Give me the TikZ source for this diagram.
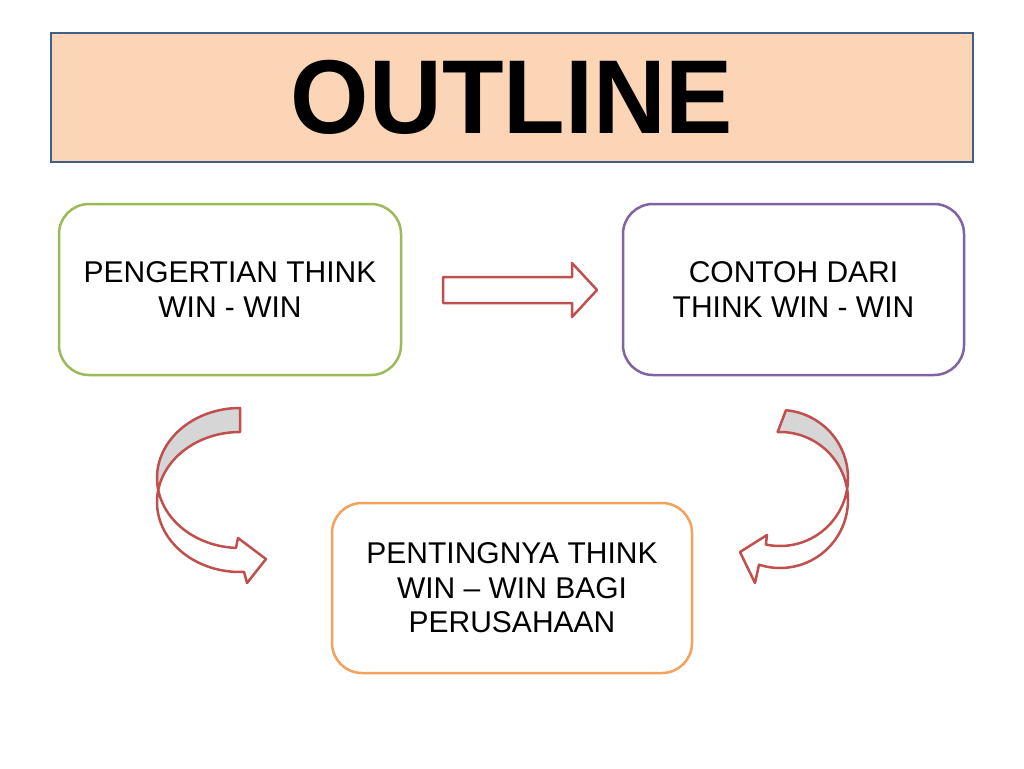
\documentclass[tikz,border=0pt]{standalone}
\usepackage{fontspec}
\setmainfont{Liberation Sans}
\definecolor{peach}{HTML}{FBD5B5}
\definecolor{hdrline}{HTML}{40608A}
\definecolor{grn}{HTML}{9BBB59}
\definecolor{purp}{HTML}{8064A2}
\definecolor{orng}{HTML}{F4A15C}
\definecolor{arred}{HTML}{C0504D}
\definecolor{backgray}{HTML}{D6D6D6}
\begin{document}
\begin{tikzpicture}[x=1pt,y=-1pt,
  header/.style={draw=hdrline, fill=peach, line width=2.5pt, minimum width=922pt, minimum height=129pt, inner sep=0pt, font=\fontsize{105}{110}\selectfont\bfseries},
  topic/.style={draw, fill=white, line width=2.5pt, rounded corners=30pt, inner sep=0pt, align=center, font=\fontsize{30}{34.5}\selectfont},
  arrowline/.style={draw=arred, line width=2.5pt, line join=round}]
\useasboundingbox (0,0) rectangle (1024,768);
\fill[white] (0,0) rectangle (1024,768);

\node[header] (title) at (512,97.5) {\scalebox{0.96}[1]{OUTLINE}};

\node[topic, draw=grn, minimum width=342pt, minimum height=171pt] (b1) at (230,289.5) {PENGERTIAN THINK\\WIN - WIN};
\node[topic, draw=purp, minimum width=341pt, minimum height=171pt] (b2) at (793.5,289.5) {CONTOH DARI\\THINK WIN - WIN};
\node[topic, draw=orng, minimum width=360pt, minimum height=170pt] (b3) at (512,588) {PENTINGNYA THINK\\WIN -- WIN BAGI\\PERUSAHAAN};

% straight block arrow
\filldraw[arrowline, fill=white] (443,277) -- (572,277) -- (572,263) -- (597,290) -- (572,317) -- (572,303) -- (443,303) -- cycle;

% left curved arrow: back band
\filldraw[arrowline, fill=backgray]
  plot[domain=270:170.1, samples=50] ({240+83*cos(\x)},{478+70*sin(\x)})
  -- plot[domain=189.9:270, samples=50] ({240+83*cos(\x)},{502+70*sin(\x)}) -- cycle;
% left curved arrow: front band with head
\filldraw[arrowline, fill=white]
  plot[domain=170.1:92.8, samples=50] ({240+83*cos(\x)},{478+70*sin(\x)})
  -- (238,538) -- (266,559) -- (247,583)
  -- plot[domain=87.2:189.9, samples=50] ({240+83*cos(\x)},{502+70*sin(\x)}) -- cycle;

% right curved arrow: back band
\filldraw[arrowline, fill=backgray]
  plot[domain=275:369.31, samples=50] ({780+68*cos(\x)},{478+68*sin(\x)})
  -- plot[domain=350.69:268, samples=50] ({780+68*cos(\x)},{500+68*sin(\x)}) -- cycle;
% right curved arrow: front band with head
\filldraw[arrowline, fill=white]
  plot[domain=9.31:102, samples=50] ({780+68*cos(\x)},{478+68*sin(\x)})
  -- (767,535) -- (740,552) -- (755,583)
  -- plot[domain=108:-9.31, samples=50] ({780+68*cos(\x)},{500+68*sin(\x)}) -- cycle;
\end{tikzpicture}
\end{document}
